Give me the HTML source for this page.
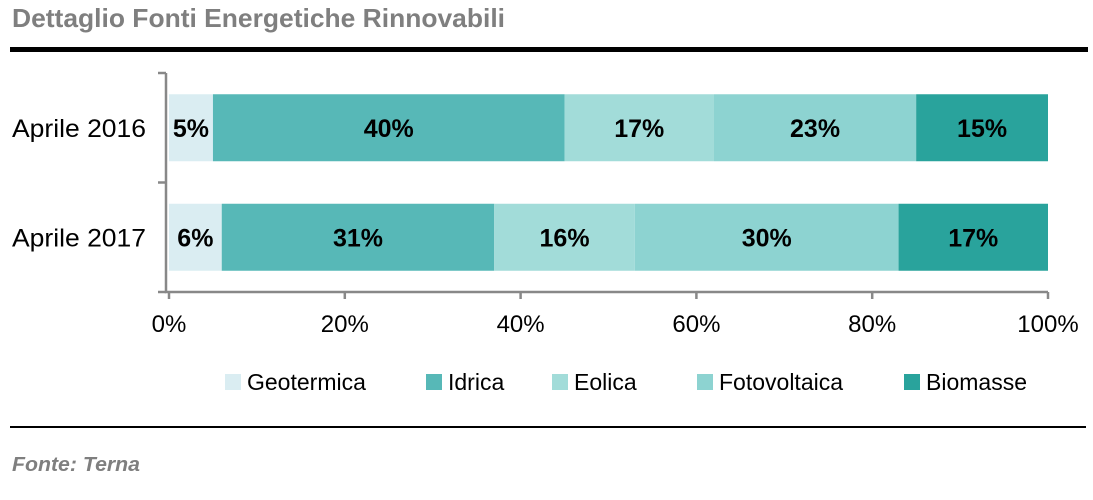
<!DOCTYPE html>
<html><head><meta charset="utf-8"><style>
body{margin:0;background:#fff;font-family:"Liberation Sans",sans-serif}
</style></head><body>
<svg width="1093" height="495" xmlns="http://www.w3.org/2000/svg" font-family="Liberation Sans, sans-serif">
<text x="12" y="27" font-size="26" font-weight="bold" fill="#7f7f7f" textLength="493" lengthAdjust="spacingAndGlyphs">Dettaglio Fonti Energetiche Rinnovabili</text>
<rect x="10" y="47" width="1078" height="5" fill="#000"/>
<g id="plot"></g>
<rect x="10" y="426" width="1076" height="2" fill="#000"/>
<text x="12" y="471" font-size="20" font-weight="bold" font-style="italic" fill="#7f7f7f" textLength="128" lengthAdjust="spacingAndGlyphs">Fonte: Terna</text>
</svg>
<script>
const categories=["Aprile 2016","Aprile 2017"];
const seriesNames=["Geotermica","Idrica","Eolica","Fotovoltaica","Biomasse"];
const geotermica=[5,6];
const idrica=[40,31];
const eolica=[17,16];
const fotovoltaica=[23,30];
const biomasse=[15,17];
const xTicks=[0,20,40,60,80,100];
const xTickLabels=["0%","20%","40%","60%","80%","100%"];
const colors=["#daedf2","#57b8b7","#a2dcd9","#8dd3d1","#29a39c"];
const series=[geotermica,idrica,eolica,fotovoltaica,biomasse];
const NS="http://www.w3.org/2000/svg";
const g=document.getElementById('plot');
const x0=169,x1=1048,yTop=73,yBot=292;
const xs=v=>x0+(x1-x0)*v/100;
const band=(yBot-yTop)/categories.length;
function mk(t,a){const e=document.createElementNS(NS,t);for(const k in a)e.setAttribute(k,a[k]);g.appendChild(e);return e;}
categories.forEach((c,i)=>{
  const yc=yTop+band*(i+0.5), h=67, y=yc-h/2;
  let cum=0;
  series.forEach((s,j)=>{
    const v=s[i];
    const r=mk('rect',{x:xs(cum),y:y,width:xs(cum+v)-xs(cum),height:h,fill:colors[j]});
    
    
    const t=mk('text',{x:(xs(cum)+xs(cum+v))/2,y:yc+9,'font-size':25,'font-weight':'bold','text-anchor':'middle',fill:'#000'});
    t.textContent=v+'%';
    
    
    cum+=v;
  });
  const l=mk('text',{x:146,y:yc+9,'font-size':25,'text-anchor':'end',fill:'#000',textLength:134,lengthAdjust:'spacingAndGlyphs'});
  l.textContent=c;
  
  
});
const ax=mk('path',{d:`M166 ${yTop}V${yBot}H${x1}`,stroke:'#888',fill:'none','stroke-width':2.5});


for(let i=0;i<=categories.length;i++){
  const tk=mk('line',{x1:158,x2:166,y1:yTop+band*i,y2:yTop+band*i,stroke:'#888','stroke-width':2.5});
  
  
}
xTicks.forEach((v,i)=>{
  const tk=mk('line',{x1:xs(v),x2:xs(v),y1:yBot,y2:yBot+7,stroke:'#888','stroke-width':2.5});
  
  
  const t=mk('text',{x:xs(v),y:332,'font-size':24,'text-anchor':'middle',fill:'#000'});
  t.textContent=xTickLabels[i];
  
  
});
const legX=[225,426,552,697,904];
seriesNames.forEach((n,j)=>{
  const r=mk('rect',{x:legX[j],y:374,width:16,height:16,fill:colors[j]});
  
  
  const t=mk('text',{x:legX[j]+22,y:390,'font-size':23,fill:'#000'});
  t.textContent=n;
  
  
});
</script>
</body></html>
